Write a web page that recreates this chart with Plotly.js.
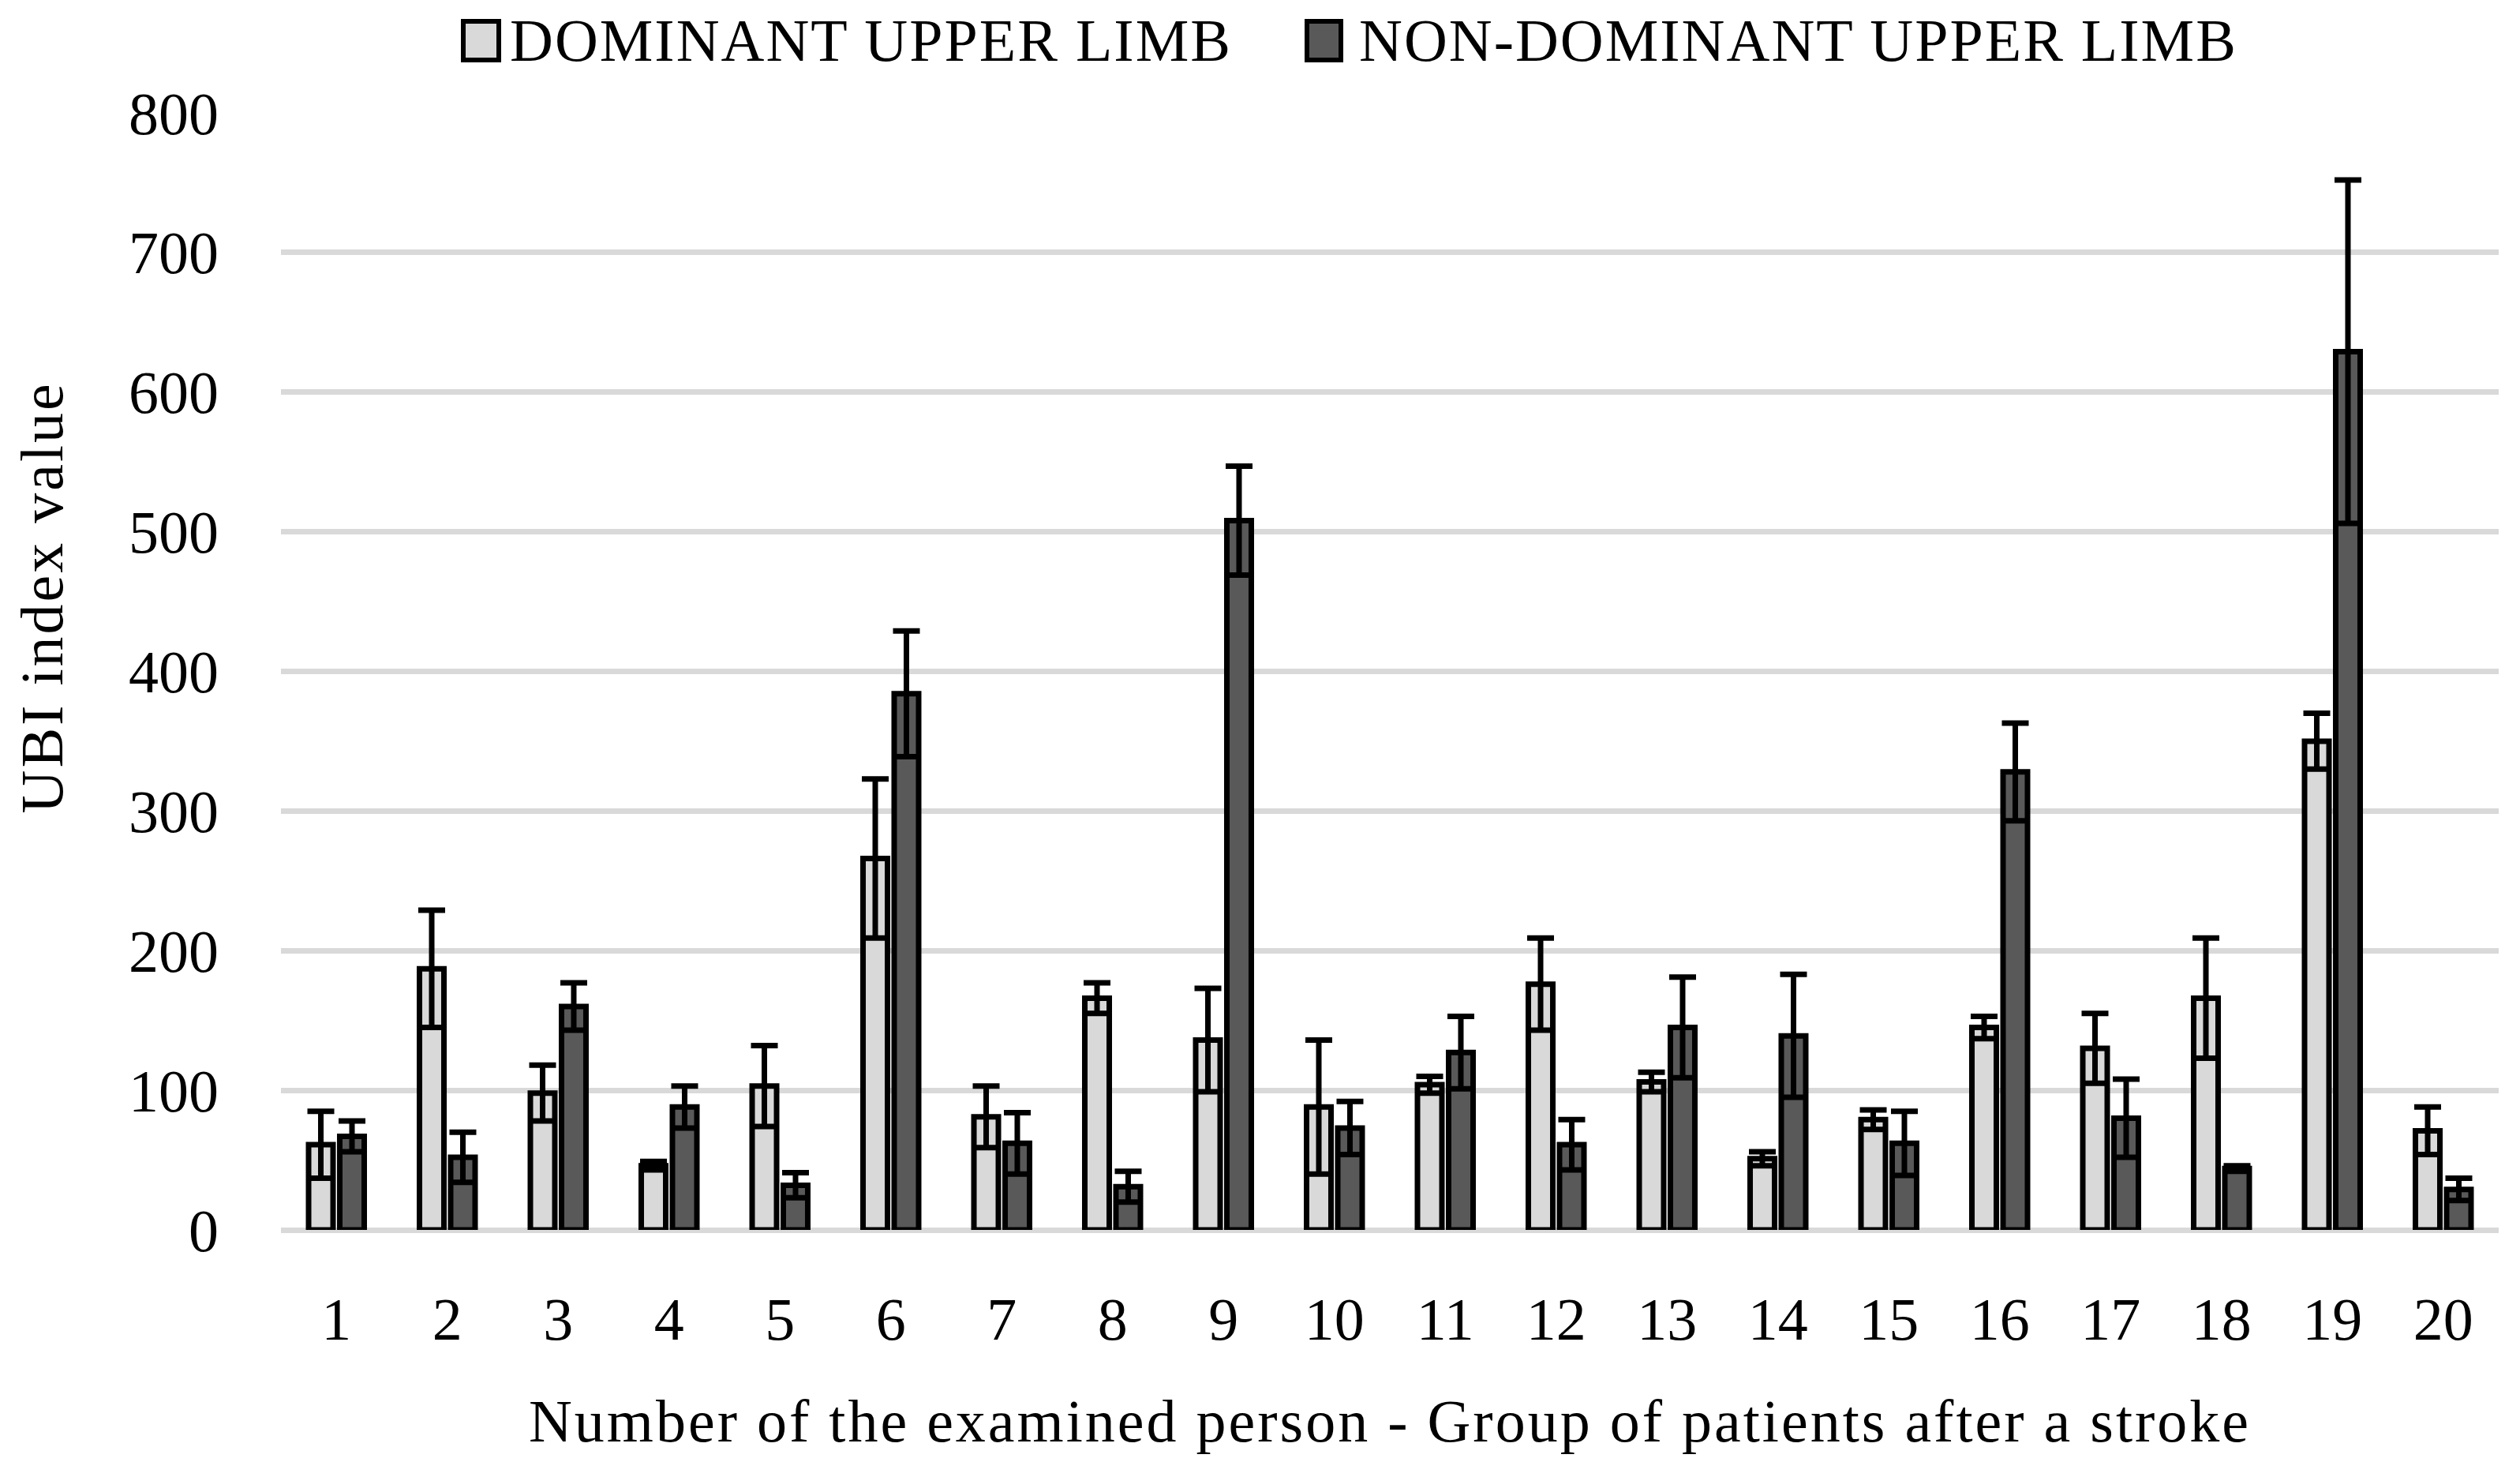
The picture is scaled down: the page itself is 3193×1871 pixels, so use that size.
<!DOCTYPE html>
<html>
<head>
<meta charset="utf-8">
<script src="https://cdn.plot.ly/plotly-3.0.1.min.js"></script>
<style>
html,body{margin:0;padding:0;background:#fff;}
#chart{width:3193px;height:1871px;}
#chart .xtitle{letter-spacing:3px;}
#chart .annotation[data-index="0"] text,
#chart .annotation[data-index="1"] text{letter-spacing:2px;}
#chart .annotation[data-index="2"] text{letter-spacing:3px;}
</style>
</head>
<body>
<div id="chart"></div>
<script>
const categories = ['1','2','3','4','5','6','7','8','9','10','11','12','13','14','15','16','17','18','19','20'];
const dominant = [61, 187, 98, 46, 103, 266, 81, 166, 136, 88, 104, 176, 106, 51, 79, 145, 130, 166, 350, 71];
const dominantErr = [24, 42, 20, 3, 29, 57, 22, 11, 37, 48, 6, 33, 7, 5, 7, 8, 25, 43, 20, 17];
const nonDominant = [67, 52, 160, 88, 32, 384, 62, 31, 508, 73, 127, 61, 145, 139, 62, 328, 80, 44, 629, 29];
const nonDominantErr = [11, 18, 17, 15, 9, 45, 22, 11, 39, 19, 26, 18, 36, 44, 23, 35, 28, 2, 123, 8];
const seriesNames = ['DOMINANT UPPER LIMB', 'NON-DOMINANT UPPER LIMB'];
const xTitle = 'Number of the examined person - Group of patients after a stroke';
const yTitle = 'UBI index value';

const FONT = 'Liberation Serif, Times New Roman, serif';
const FS = 76;
const LIGHT = '#D9D9D9', DARK = '#595959';

function barTrace(name, y, err, color) {
  return {
    type: 'bar', name: name, x: categories, y: y,
    marker: {color: color, line: {color: '#000', width: 7}},
    error_y: {type: 'data', array: err, visible: true, color: '#000', thickness: 7, width: 17},
    showlegend: false
  };
}

const data = [
  barTrace(seriesNames[0], dominant, dominantErr, LIGHT),
  barTrace(seriesNames[1], nonDominant, nonDominantErr, DARK)
];

// plot area in pixels: left 356, right 3166, top 143, bottom 1558
const L = 356, R = 3166, T = 143, B = 1558;
const PW = R - L, PH = B - T;
const px = v => (v - L) / PW;
const py = v => (B - v) / PH;

const layout = {
  width: 3193, height: 1871,
  margin: {l: L, r: 3193 - R, t: T, b: 1871 - B, pad: 0},
  paper_bgcolor: '#fff', plot_bgcolor: '#fff',
  font: {family: FONT, size: FS, color: '#000'},
  barmode: 'group', bargap: 0.438, bargroupgap: 0.215,
  showlegend: false,
  xaxis: {
    type: 'category', showgrid: false, zeroline: false, showline: false,
    ticks: '', ticklabelstandoff: 62,
    tickfont: {family: FONT, size: FS, color: '#000'},
    title: {text: xTitle, font: {family: FONT, size: FS, color: '#000'}, standoff: 60}
  },
  yaxis: {
    range: [0, 800], dtick: 100, tick0: 0,
    showgrid: true, gridcolor: '#D9D9D9', gridwidth: 7,
    zeroline: true, zerolinecolor: '#D9D9D9', zerolinewidth: 7,
    showline: false, ticks: '', ticklabelstandoff: 78,
    tickfont: {family: FONT, size: FS, color: '#000'}
  },
  shapes: [
    {type: 'rect', xref: 'paper', yref: 'paper', x0: px(587), x1: px(632), y0: py(76), y1: py(27),
     fillcolor: LIGHT, line: {color: '#000', width: 6}},
    {type: 'rect', xref: 'paper', yref: 'paper', x0: px(1656), x1: px(1699), y0: py(76), y1: py(27),
     fillcolor: DARK, line: {color: '#000', width: 6}}
  ],
  annotations: [
    {xref: 'paper', yref: 'paper', x: px(663), y: py(51), xanchor: 'left', yanchor: 'middle',
     text: seriesNames[0], showarrow: false, font: {family: FONT, size: FS, color: '#000'}},
    {xref: 'paper', yref: 'paper', x: px(1743), y: py(51), xanchor: 'left', yanchor: 'middle',
     text: seriesNames[1], showarrow: false, font: {family: FONT, size: FS, color: '#000'}},
    {xref: 'paper', yref: 'paper', x: px(53), y: py(757), xanchor: 'center', yanchor: 'middle',
     textangle: -90, text: yTitle, showarrow: false, font: {family: FONT, size: FS, color: '#000'}}
  ]
};

Plotly.newPlot('chart', data, layout, {staticPlot: true, displayModeBar: false});
</script>
</body>
</html>
